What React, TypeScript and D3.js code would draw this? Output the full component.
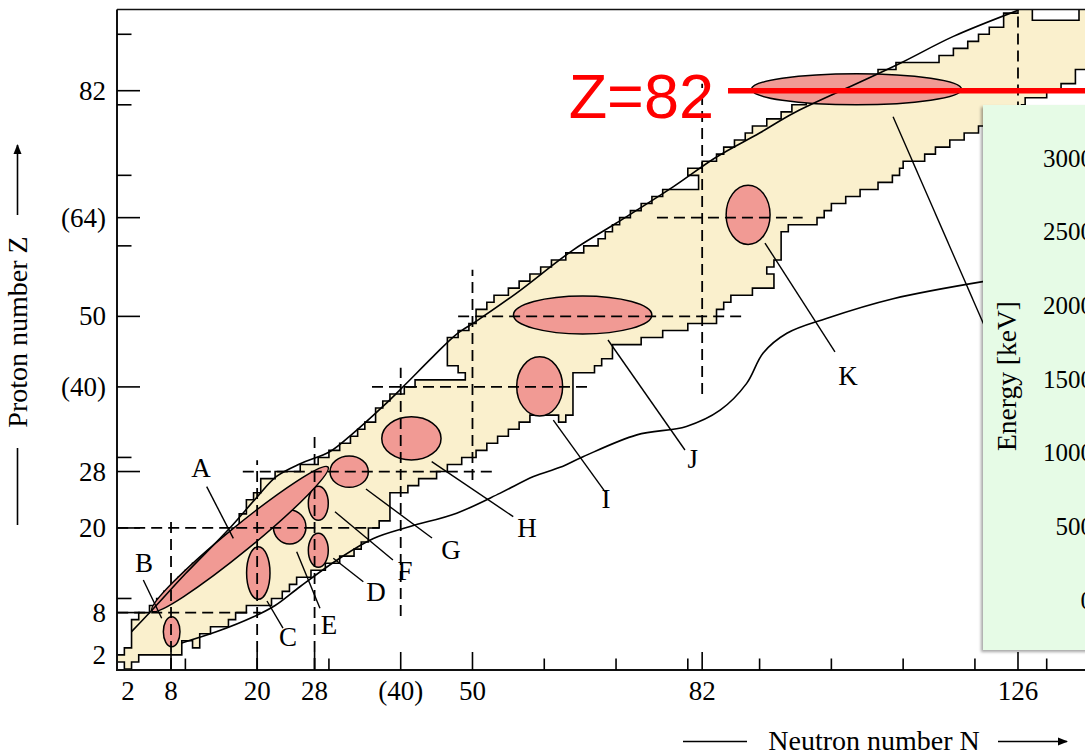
import React from 'react';
import * as d3 from 'd3';

const W = 1085;
const H = 751;
const SERIF = '"Liberation Serif", "Times New Roman", serif';
const SANS = '"Liberation Sans", Arial, sans-serif';

// ---- axis ticks ----
const nMajorTicks = [8, 20, 28, 40, 50, 82, 126];
const nMinorTicks = [10, 30, 60, 70, 80, 90, 100, 110, 120, 130];
const nLabelValues = [2, 8, 20, 28, 40, 50, 82, 126];
const nLabelTexts = ['2', '8', '20', '28', '(40)', '50', '82', '126'];

const zMajorTicks = [8, 20, 28, 40, 50, 64, 82];
const zMinorTicks = [10, 30, 60, 70, 80, 90];
const zLabelValues = [2, 8, 20, 28, 40, 50, 64, 82];
const zLabelTexts = ['2', '8', '20', '28', '(40)', '50', '(64)', '82'];

// ---- magic-number guide lines ----
const zLineValue = [8, 20, 28, 40, 50, 64, 82];
const zLineFrom = [0.5, 0.5, 18, 36, 48, 75.7, 85.6];
const zLineTo = [20.5, 37, 53.5, 66, 88, 96, 136];
const nLineValue = [8, 20, 28, 40, 50, 82, 126];
const nLineFrom = [0, 0, 0, 7.5, 26.8, 39, 50];
const nLineTo = [21.3, 29.6, 33.5, 42.7, 56.6, 83, 94];

// ---- band of known nuclides: staircase outline, [N, Z] corners ----
const lowerEdge: [number, number][] = [
  [1.5, 0], [2.5, 0], [2.5, 1], [3.5, 1], [3.5, 2], [9.5, 2], [9.5, 4], [11, 4], [11, 3], [12, 3],
  [12, 5], [13.5, 5], [13.5, 6], [16, 6], [16, 7], [17, 7], [17, 8], [18.5, 8], [18.5, 9], [22, 9],
  [22, 10], [23.5, 10], [23.5, 11], [24.5, 11], [24.5, 12], [25.5, 12], [25.5, 13], [27.5, 13], [27.5, 14], [29.5, 14],
  [29.5, 15], [31.5, 15], [31.5, 16], [33.5, 16], [33.5, 17], [34.5, 17], [34.5, 18], [35.5, 18], [35.5, 20], [37, 20],
  [37, 21], [38.5, 21], [38.5, 25], [41, 25], [41, 26], [42.5, 26], [42.5, 27], [45, 27], [45, 28], [46.5, 28],
  [46.5, 29], [48.5, 29], [48.5, 30], [50.5, 30], [50.5, 31], [52, 31], [52, 32], [53.5, 32], [53.5, 33], [55, 33],
  [55, 34], [56.5, 34], [56.5, 35], [58, 35], [58, 36], [62, 36], [62, 35], [63, 35], [63, 36], [64, 36],
  [64, 42], [67, 42], [67, 43], [68, 43], [68, 44], [69.5, 44], [69.5, 46], [73.5, 46], [73.5, 47], [76.5, 47],
  [76.5, 48], [80, 48], [80, 49], [84, 49], [84, 51], [85, 51], [85, 52], [86, 52], [86, 53], [89, 53],
  [89, 54], [92, 54], [92, 56], [91, 56], [91, 57], [92, 57], [92, 58], [93, 58], [93, 62], [94, 62],
  [94, 63], [98, 63], [98, 64], [99, 64], [99, 65], [100, 65], [100, 66], [102, 66], [102, 67], [104, 67],
  [104, 68], [106.5, 68], [106.5, 69], [108.5, 69], [108.5, 70], [109.5, 70], [109.5, 71], [110, 71], [110, 72], [113, 72],
  [113, 73], [114.5, 73], [114.5, 74], [116.5, 74], [116.5, 75], [118.5, 75], [118.5, 76], [120.5, 76], [120.5, 77], [122, 77],
  [122, 78], [124, 78], [124, 79], [126.5, 79], [126.5, 80], [127, 80], [127, 81], [130, 81], [130, 82], [132, 82],
  [132, 83], [134, 83], [134, 85], [140, 85], [140, 96],
];

const upperEdge: [number, number][] = [
  [1.5, 0], [1.5, 1], [-1, 1], [-1, 2], [1.5, 2], [1.5, 3], [2.5, 3], [2.5, 7], [3.5, 7], [3.5, 8],
  [5, 8], [5, 9], [6, 9], [6, 10], [7, 10], [7, 11], [8, 11], [8, 12], [9, 12], [9, 13],
  [10, 13], [10, 14], [11, 14], [11, 15], [12.5, 15], [12.5, 16], [13.5, 16], [13.5, 17], [14.5, 17], [14.5, 18],
  [15.5, 18], [15.5, 19], [16.5, 19], [16.5, 20], [17.5, 20], [17.5, 22], [18.5, 22], [18.5, 24], [19.5, 24], [19.5, 25],
  [20.5, 25], [20.5, 27], [22.5, 27], [22.5, 28], [26, 28], [26, 29], [28.5, 29], [28.5, 30], [30, 30], [30, 31],
  [31.5, 31], [31.5, 32], [33, 32], [33, 33], [34, 33], [34, 34], [35, 34], [35, 35], [36.5, 35], [36.5, 37],
  [37.5, 37], [37.5, 38], [38.5, 38], [38.5, 39], [40.5, 39], [40.5, 40], [42, 40], [42, 41], [49, 41], [49, 42],
  [48, 42], [48, 43], [46.5, 43], [46.5, 47], [48, 47], [48, 48], [49.5, 48], [49.5, 49], [50.5, 49], [50.5, 51],
  [52, 51], [52, 52], [53, 52], [53, 53], [55, 53], [55, 54], [56.5, 54], [56.5, 55], [58, 55], [58, 56],
  [59.5, 56], [59.5, 57], [61, 57], [61, 58], [63, 58], [63, 59], [65.5, 59], [65.5, 60], [67.5, 60], [67.5, 61],
  [68.5, 61], [68.5, 62], [69.5, 62], [69.5, 63], [70.5, 63], [70.5, 64], [72, 64], [72, 65], [73.5, 65], [73.5, 66],
  [75, 66], [75, 67], [76.5, 67], [76.5, 68], [81.5, 68], [81.5, 70], [80, 70], [80, 71], [82, 71], [82, 72],
  [84, 72], [84, 73], [85, 73], [85, 74], [86.5, 74], [86.5, 75], [88, 75], [88, 76], [89, 76], [89, 77],
  [91, 77], [91, 78], [93, 78], [93, 79], [94.5, 79], [94.5, 80], [96.5, 80], [96.5, 81], [98.5, 81], [98.5, 82],
  [101, 82], [101, 83], [104, 83], [104, 84], [106.5, 84], [106.5, 85], [109, 85], [109, 86], [115, 86], [115, 87],
  [117, 87], [117, 88], [119, 88], [119, 89], [120.5, 89], [120.5, 90], [122, 90], [122, 91], [124, 91], [124, 93],
  [126, 93], [126, 96], [128, 96], [128, 92], [134.5, 92], [134.5, 96], [140, 96],
];

// ---- smooth boundary curves ----
const upperCurveN = [2.5, 5.3, 10, 16.2, 20, 22.7, 26, 30.1, 33, 37.6, 40.6, 44.5, 47.8, 50.5, 56, 64, 70, 78, 84, 90, 94.7, 102, 109.6, 117, 126];
const upperCurveZ = [5.3, 8.3, 13.5, 20, 24.4, 27.3, 29.1, 30.8, 33.1, 37.3, 40.3, 44.3, 47.5, 49.3, 53.2, 59.4, 63.2, 68.4, 72.6, 76, 78.8, 82.3, 85.9, 89.7, 93.4];
const lowerCurveN = [9.5, 14.4, 19.5, 22.5, 26, 31.5, 36.2, 41.3, 47.8, 53.8, 58.5, 62.2, 65.4, 72.9, 79.8, 84.5, 88.2, 90.5, 93.8, 99.3, 108.6, 121.5];
const lowerCurveZ = [3.7, 5.3, 7.4, 9, 11.7, 15.7, 18.5, 20.2, 22.1, 24.9, 27.3, 28.6, 30.1, 33.2, 34.4, 36.7, 40.5, 44.8, 47.6, 49.7, 52.5, 55];

// ---- deformation regions (axis-aligned ellipses) ----
const regionN = [8.09, 20.16, 28.52, 24.53, 28.52, 32.82, 41.49, 59.36, 65.35, 88.4, 103.5];
const regionZ = [5.29, 13.61, 16.83, 20.14, 23.5, 27.98, 32.7, 40.07, 50.2, 64.4, 82.2];
const regionHalfN = [1.16, 1.63, 1.39, 2.27, 1.39, 2.67, 4.13, 3.2, 9.64, 3.06, 14.63];
const regionHalfZ = [2.13, 3.73, 2.41, 2.41, 2.41, 2.22, 3.07, 4.2, 2.69, 4.2, 2.2];
// elongated region along the N = Z diagonal, from tip to tip
const regionATips: [number, number][] = [[5.35, 8.22], [29.87, 28.64]];

// ---- labels with leader lines ----
const labelText = ['A', 'B', 'C', 'D', 'E', 'F', 'G', 'H', 'I', 'J', 'K', ''];
const labelN = [12.18, 4.24, 24.3, 36.56, 30.0, 40.6, 47.0, 57.6, 68.6, 80.7, 102.3, 0];
const labelZ = [28.5, 15.03, 4.54, 10.92, 6.24, 13.9, 16.9, 20.0, 24.1, 29.8, 41.5, 0];
const leaderFromN = [12.97, 4.14, 21.37, 30.61, 25.51, 30.84, 35.16, 44.32, 61.26, 68.88, 90.75, 108.6];
const leaderFromZ = [25.85, 12.62, 9.64, 15.7, 16.63, 22.3, 25.52, 29.4, 35.3, 46.65, 60.4, 78.3];
const leaderToN = [16.68, 6.7, 23.6, 34.79, 28.75, 38.92, 44.36, 55.68, 68.46, 79.6, 100.5, 121.6];
const leaderToZ = [18.53, 7.19, 5.81, 12.38, 8.61, 15.46, 18.58, 21.6, 25.14, 31.05, 44.95, 48];

// ---- inset energy axis ----
const energyTicks = [0, 500, 1000, 1500, 2000, 2500, 3000];

export default function App() {
  const x = d3.scaleLinear().domain([0, 130]).range([113.6, 1046.7]);
  const y = d3.scaleLinear().domain([0, 82]).range([669, 90.7]);
  const e = d3.scaleLinear().domain([0, 3000]).range([600, 158]);

  const plotLeft = 117;
  const plotTop = 9.5;
  const plotBottom = 670;

  const toPx = (p: [number, number]): [number, number] => [x(p[0]), y(p[1])];
  const bandPath = d3.line()([...lowerEdge, ...[...upperEdge].reverse()].map(toPx)) + 'Z';

  const smooth = d3
    .line<[number, number]>()
    .x((d) => x(d[0]))
    .y((d) => y(d[1]))
    .curve(d3.curveCatmullRom.alpha(0.5));
  const upperCurve = smooth(d3.zip(upperCurveN, upperCurveZ) as [number, number][]);
  const lowerCurve = smooth(d3.zip(lowerCurveN, lowerCurveZ) as [number, number][]);

  const [a0, a1] = regionATips.map(toPx);
  const aCx = (a0[0] + a1[0]) / 2;
  const aCy = (a0[1] + a1[1]) / 2;
  const aLen = Math.hypot(a1[0] - a0[0], a1[1] - a0[1]) / 2;
  const aAng = (Math.atan2(a1[1] - a0[1], a1[0] - a0[0]) * 180) / Math.PI;

  const ellipseFill = '#F19A94';
  const bandFill = '#FAF0CD';

  return (
    <svg
      width={W}
      height={H}
      viewBox={`0 0 ${W} ${H}`}
      style={{ position: 'absolute', left: 0, top: 0, background: '#fff' }}
    >
      <defs>
        <clipPath id="plot">
          <rect x={plotLeft} y={plotTop} width={W - plotLeft} height={plotBottom - plotTop} />
        </clipPath>
        <filter id="panelShadow" x="-10%" y="-10%" width="120%" height="120%">
          <feDropShadow dx="-2" dy="2" stdDeviation="1.8" floodColor="#000" floodOpacity="0.35" />
        </filter>
        <marker id="arrowHead" viewBox="0 0 10 10" refX="9" refY="5" markerWidth="10" markerHeight="10" markerUnits="userSpaceOnUse" orient="auto">
          <path d="M0,1 L10,5 L0,9 Z" fill="#000" />
        </marker>
      </defs>

      <g clipPath="url(#plot)">
        {/* nuclide band */}
        <path d={bandPath} fill={bandFill} stroke="#000" strokeWidth={1.6} strokeLinejoin="miter" />

        {/* deformation regions */}
        {regionN.map((n, i) => (
          <ellipse
            key={`r${i}`}
            cx={x(n)}
            cy={y(regionZ[i])}
            rx={x(regionHalfN[i]) - x(0)}
            ry={y(0) - y(regionHalfZ[i])}
            fill={ellipseFill}
            stroke="#000"
            strokeWidth={1.5}
          />
        ))}
        <ellipse
          cx={aCx}
          cy={aCy}
          rx={aLen}
          ry={12.5}
          transform={`rotate(${aAng} ${aCx} ${aCy})`}
          fill={ellipseFill}
          stroke="#000"
          strokeWidth={1.5}
        />

        {/* magic number guides */}
        {zLineValue.map((z, i) => (
          <line
            key={`zl${i}`}
            x1={x(zLineFrom[i])}
            x2={x(zLineTo[i])}
            y1={y(z)}
            y2={y(z)}
            stroke="#000"
            strokeWidth={1.8}
            strokeDasharray="11,6"
          />
        ))}
        {nLineValue.map((n, i) => (
          <line
            key={`nl${i}`}
            x1={x(n)}
            x2={x(n)}
            y1={y(nLineFrom[i])}
            y2={y(nLineTo[i])}
            stroke="#000"
            strokeWidth={1.8}
            strokeDasharray="11,6"
          />
        ))}

        {/* drip-line style boundaries */}
        <path d={upperCurve ?? ''} fill="none" stroke="#000" strokeWidth={1.6} />
        <path d={lowerCurve ?? ''} fill="none" stroke="#000" strokeWidth={1.6} />

        {/* leader lines */}
        {leaderFromN.map((n, i) => (
          <line
            key={`ll${i}`}
            x1={x(n)}
            y1={y(leaderFromZ[i])}
            x2={x(leaderToN[i])}
            y2={y(leaderToZ[i])}
            stroke="#000"
            strokeWidth={1.4}
          />
        ))}
      </g>

      {/* region labels */}
      {labelText.map((t, i) =>
        t ? (
          <text
            key={`lt${i}`}
            x={x(labelN[i])}
            y={y(labelZ[i])}
            textAnchor="middle"
            dominantBaseline="central"
            fontFamily={SERIF}
            fontSize={27}
          >
            {t}
          </text>
        ) : null
      )}

      {/* Z = 82 highlight */}
      <line x1={x(85.6)} x2={x(136)} y1={y(82)} y2={y(82)} stroke="#FF0000" strokeWidth={5.5} />
      <text x={x(85.6) - 14} y={y(82) + 27.5} textAnchor="end" fontFamily={SANS} fontSize={63} fill="#FF0000">
        Z=82
      </text>

      {/* inset energy panel */}
      <g filter="url(#panelShadow)">
        <rect x={983} y={105} width={140} height={545} fill="#E6FBE6" />
      </g>
      {energyTicks.map((v) => (
        <text
          key={`et${v}`}
          x={1093}
          y={e(v)}
          textAnchor="end"
          dominantBaseline="central"
          fontFamily={SERIF}
          fontSize={25}
        >
          {v}
        </text>
      ))}
      <text
        transform={`translate(1016, 376) rotate(-90)`}
        textAnchor="middle"
        fontFamily={SERIF}
        fontSize={27.5}
      >
        Energy [keV]
      </text>

      {/* frame */}
      <line x1={plotLeft} x2={plotLeft} y1={plotTop} y2={plotBottom} stroke="#111" strokeWidth={2} />
      <line x1={plotLeft} x2={W} y1={plotTop} y2={plotTop} stroke="#111" strokeWidth={1.6} />
      <line x1={plotLeft - 1} x2={W} y1={plotBottom} y2={plotBottom} stroke="#111" strokeWidth={2} />

      {/* N ticks */}
      {nMajorTicks.map((n) => (
        <line key={`nM${n}`} x1={x(n)} x2={x(n)} y1={plotBottom} y2={plotBottom - 18} stroke="#000" strokeWidth={1.6} />
      ))}
      {nMinorTicks.map((n) => (
        <line key={`nm${n}`} x1={x(n)} x2={x(n)} y1={plotBottom} y2={plotBottom - 11.5} stroke="#000" strokeWidth={1.6} />
      ))}
      {nLabelValues.map((n, i) => (
        <text key={`nt${n}`} x={x(n)} y={700} textAnchor="middle" fontFamily={SERIF} fontSize={27}>
          {nLabelTexts[i]}
        </text>
      ))}

      {/* Z ticks */}
      {zMajorTicks.map((z) => (
        <line key={`zM${z}`} x1={plotLeft} x2={plotLeft + 23} y1={y(z)} y2={y(z)} stroke="#000" strokeWidth={1.6} />
      ))}
      {zMinorTicks.map((z) => (
        <line key={`zm${z}`} x1={plotLeft} x2={plotLeft + 14.5} y1={y(z)} y2={y(z)} stroke="#000" strokeWidth={1.6} />
      ))}
      {zLabelValues.map((z, i) => (
        <text key={`zt${z}`} x={106} y={y(z)} textAnchor="end" dominantBaseline="central" fontFamily={SERIF} fontSize={27}>
          {zLabelTexts[i]}
        </text>
      ))}

      {/* axis titles */}
      <text transform="translate(26.5, 332) rotate(-90)" textAnchor="middle" fontFamily={SERIF} fontSize={28}>
        Proton number Z
      </text>
      <line x1={17.5} x2={17.5} y1={215} y2={145} stroke="#000" strokeWidth={1.6} markerEnd="url(#arrowHead)" />
      <line x1={17.5} x2={17.5} y1={448} y2={525} stroke="#000" strokeWidth={1.6} />

      <text x={874} y={750} textAnchor="middle" fontFamily={SERIF} fontSize={28}>
        Neutron number N
      </text>
      <line x1={683} x2={747} y1={741.5} y2={741.5} stroke="#000" strokeWidth={1.6} />
      <line x1={998} x2={1067} y1={741.5} y2={741.5} stroke="#000" strokeWidth={1.6} markerEnd="url(#arrowHead)" />
    </svg>
  );
}
